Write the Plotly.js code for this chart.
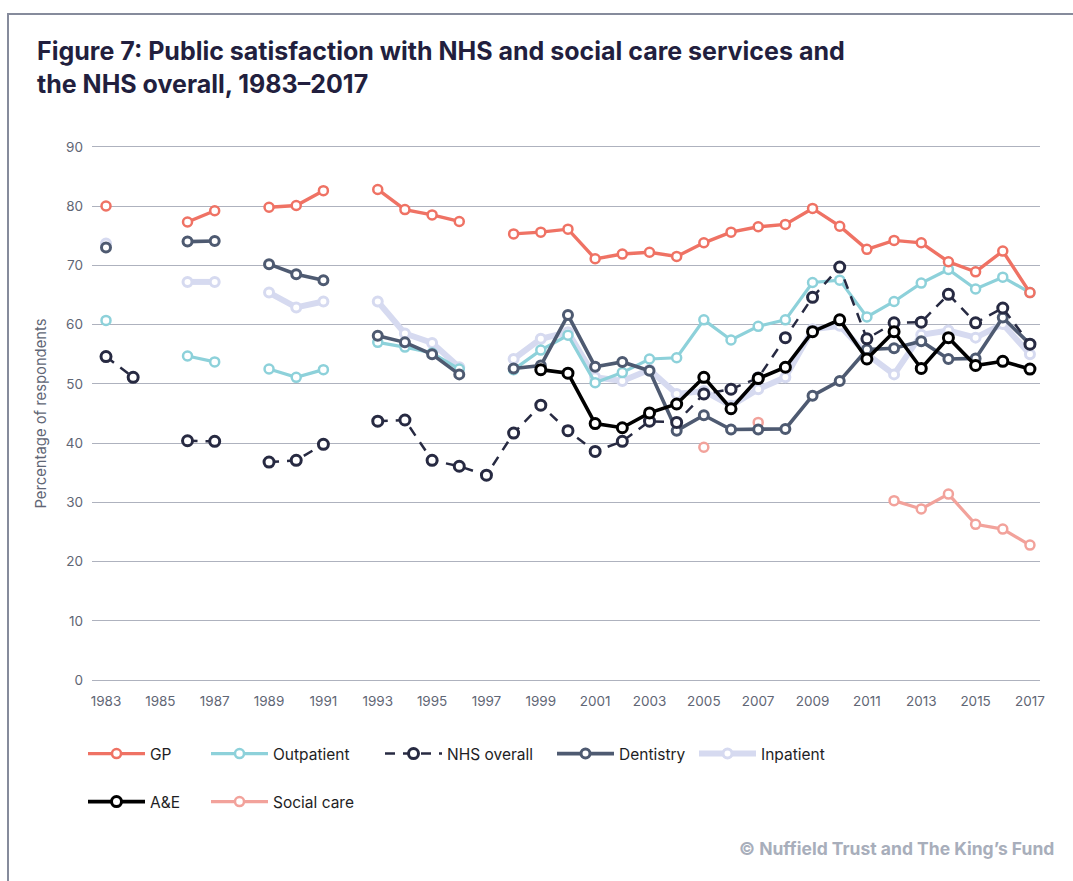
<!DOCTYPE html>
<html>
<head>
<meta charset="utf-8">
<script src="https://cdn.plot.ly/plotly-3.0.1.min.js"></script>
<style>
  html, body { margin: 0; padding: 0; background: #fff; }
  #chart { width: 1073px; height: 881px; position: absolute; left: 0; top: 0; }
  #frame { position: absolute; left: 7px; top: 13px; width: 1080px; height: 900px;
           border-top: 2px solid #868B9C; border-left: 2px solid #868B9C; pointer-events: none; }
</style>
</head>
<body>
<div id="chart"></div>
<div id="frame"></div>
<script>
const years = [1983,1984,1985,1986,1987,1988,1989,1990,1991,1992,1993,1994,1995,1996,1997,1998,1999,2000,
               2001,2002,2003,2004,2005,2006,2007,2008,2009,2010,2011,2012,2013,2014,2015,2016,2017];

const gp = [80, null, null, 77.3, 79.2, null, 79.8, 80.1, 82.6, null, 82.8, 79.4, 78.5, 77.4, null, 75.3, 75.6, 76.1,
            71.1, 71.9, 72.2, 71.5, 73.8, 75.6, 76.5, 76.9, 79.6, 76.6, 72.7, 74.2, 73.8, 70.6, 68.9, 72.4, 65.4];
const outpatient = [60.7, null, null, 54.7, 53.7, null, 52.5, 51.1, 52.4, null, 57.0, 56.2, 55.2, 52.5, null, 52.4, 55.7, 58.2,
            50.2, 51.9, 54.2, 54.4, 60.8, 57.4, 59.7, 60.8, 67.1, 67.5, 61.3, 63.9, 67.0, 69.3, 66.0, 68.0, 65.4];
const nhsOverall = [54.6, 51.1, null, 40.4, 40.3, null, 36.8, 37.1, 39.8, null, 43.7, 43.9, 37.1, 36.1, 34.6, 41.7, 46.4, 42.1,
            38.6, 40.3, 43.7, 43.5, 48.3, 49.1, 51.0, 57.8, 64.6, 69.7, 57.6, 60.3, 60.4, 65.1, 60.3, 62.8, 56.7];
const dentistry = [73.0, null, null, 74.0, 74.1, null, 70.2, 68.5, 67.5, null, 58.1, 57.0, 55.0, 51.6, null, 52.6, 53.1, 61.6,
            52.9, 53.7, 52.2, 42.1, 44.7, 42.3, 42.3, 42.4, 48.0, 50.5, 55.8, 56.0, 57.2, 54.2, 54.3, 61.2, 56.7];
const inpatient = [73.7, null, null, 67.2, 67.2, null, 65.4, 62.9, 63.9, null, 63.9, 58.5, 56.9, 52.8, null, 54.2, 57.6, 58.7,
            51.1, 50.5, 52.4, 48.3, 48.8, 46.3, 49.1, 51.1, 59.2, 59.8, 55.0, 51.6, 58.3, 59.0, 57.8, 60.1, 55.0];
const ae = [null, null, null, null, null, null, null, null, null, null, null, null, null, null, null, null, 52.4, 51.8,
            43.3, 42.6, 45.1, 46.6, 51.1, 45.8, 50.9, 52.8, 58.8, 60.8, 54.2, 58.8, 52.6, 57.8, 53.1, 53.8, 52.5];
const socialCare = [null, null, null, null, null, null, null, null, null, null, null, null, null, null, null, null, null, null,
            null, null, null, null, 39.3, null, 43.5, null, null, null, null, 30.3, 28.9, 31.4, 26.3, 25.5, 22.8];

const xTickStart = 1983, xTickStep = 2;
const yTickStep = 10;

const W = 1073, H = 881;
const FONT = 'Inter, Lato, "Noto Sans", sans-serif';

function mk(name, y, color, lw, opts) {
  opts = opts || {};
  return {
    type: 'scatter', mode: 'lines+markers', name: name, x: years, y: y,
    connectgaps: false, cliponaxis: false,
    line: { color: color, width: lw, dash: opts.dash || 'solid' },
    marker: { symbol: 'circle', size: opts.ms || 9, color: '#ffffff',
              line: { color: opts.mcolor || color, width: opts.mlw || 2.5 } },
    legend: opts.legend, hoverinfo: 'x+y+name'
  };
}

const traces = [
  mk('Inpatient', inpatient, '#D6DAF0', 6, { legend: 'legend5', mlw: 3 }),
  mk('Outpatient', outpatient, '#8DD1DA', 3.2, { legend: 'legend2' }),
  mk('Social care', socialCare, '#F2A29B', 3.2, { legend: 'legend7' }),
  mk('GP', gp, '#EF7264', 3.4, { legend: 'legend' }),
  mk('Dentistry', dentistry, '#4E5A71', 3.6, { legend: 'legend4', mlw: 3 }),
  mk('NHS overall', nhsOverall, '#272A42', 2.5, { legend: 'legend3', dash: '10px,8px', ms: 10, mlw: 3 }),
  mk('A&E', ae, '#000000', 3.6, { legend: 'legend6', ms: 10, mlw: 3 })
];

function lg(px, py) {
  return {
    x: px / W, y: 1 - py / H, xref: 'container', yref: 'container',
    xanchor: 'left', yanchor: 'middle', orientation: 'h',
    itemwidth: 57, bgcolor: 'rgba(0,0,0,0)', borderwidth: 0,
    font: { family: FONT, size: 15.5, color: '#1E1E24' }
  };
}

const layout = {
  width: W, height: H,
  paper_bgcolor: '#ffffff', plot_bgcolor: '#ffffff',
  margin: { l: 92, r: 33, t: 145, b: 199 },
  font: { family: FONT, color: '#5F6675' },
  title: {
    text: 'Figure 7: Public satisfaction with NHS and social care services and<br>the NHS overall, 1983–2017',
    x: 37 / W, xref: 'container', xanchor: 'left',
    y: 1 - 60 / H, yref: 'container', yanchor: 'top',
    font: { family: FONT, size: 25, weight: 700, color: '#221F3E' }
  },
  xaxis: {
    range: [1982.485, 2017.37], tickmode: 'linear', tick0: xTickStart, dtick: xTickStep,
    showgrid: false, zeroline: false, showline: false, ticks: '',
    tickfont: { family: FONT, size: 13.5, color: '#5F6675' }, ticklabelstandoff: 9, fixedrange: true
  },
  yaxis: {
    range: [-0.3, 90.3], tickmode: 'linear', tick0: 0, dtick: yTickStep,
    showgrid: true, gridcolor: '#AEB2BE', gridwidth: 1, zeroline: false, showline: false, ticks: '',
    tickfont: { family: FONT, size: 13.5, color: '#5F6675' }, ticklabelstandoff: 8,
    title: { text: 'Percentage of respondents', font: { family: FONT, size: 14.8, color: '#5F6675' }, standoff: 15 },
    fixedrange: true
  },
  showlegend: true,
  legend: lg(83, 754),
  legend2: lg(206, 754),
  legend3: lg(380, 754),
  legend4: lg(552, 754),
  legend5: lg(694, 754),
  legend6: lg(83, 802),
  legend7: lg(206, 802),
  annotations: [{
    text: '© Nuffield Trust and The King’s Fund',
    xref: 'paper', yref: 'paper', x: (1056 - 92) / 948, y: (682 - 848) / 537,
    xanchor: 'right', yanchor: 'middle', showarrow: false,
    font: { family: FONT, size: 17.5, weight: 700, color: '#A8AEBB' }
  }]
};

Plotly.newPlot('chart', traces, layout, { displayModeBar: false, staticPlot: true });
</script>
</body>
</html>
